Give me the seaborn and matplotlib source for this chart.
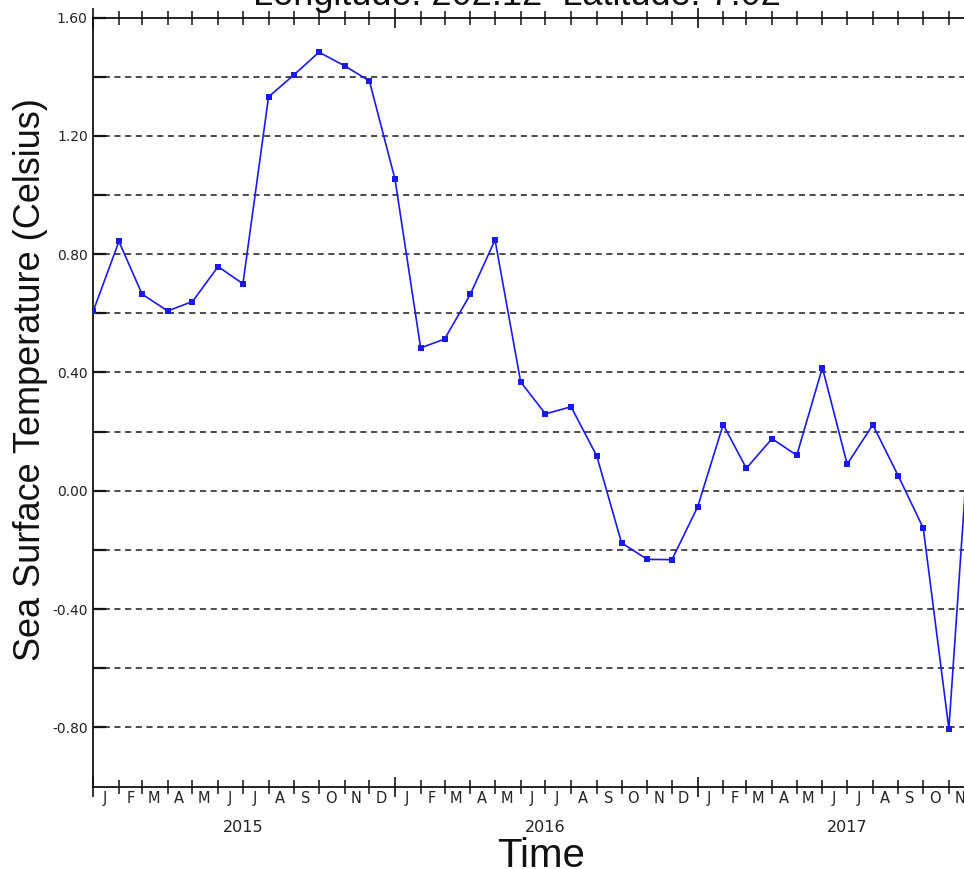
import numpy as np
import pandas as pd
import matplotlib
matplotlib.use("Agg")
import matplotlib.pyplot as plt
import matplotlib.dates as mdates
import seaborn as sns

# Monthly sea surface temperature anomaly at one grid point
months = pd.date_range("2015-01-01", "2017-12-01", freq="MS")
sst = [0.608, 0.843, 0.665, 0.608, 0.640, 0.758, 0.700, 1.332, 1.407, 1.483, 1.437, 1.386,
       1.053, 0.483, 0.513, 0.664, 0.848, 0.368, 0.260, 0.284, 0.118, -0.176, -0.232, -0.233,
       -0.055, 0.224, 0.076, 0.176, 0.120, 0.416, 0.090, 0.223, 0.049, -0.126, -0.805, 0.420]
month_letters = list("JFMAMJJASOND")
years = [2015, 2016, 2017]
y_major = [-0.8, -0.4, 0.0, 0.4, 0.8, 1.2, 1.6]
y_minor = [-0.6, -0.2, 0.2, 0.6, 1.0, 1.4]
title = "Longitude: 202.12  Latitude: 7.02"
ylabel = "Sea Surface Temperature (Celsius)"
xlabel = "Time"

df = pd.DataFrame({"time": months, "sst": sst})

sns.set_theme(style="white")
plt.rcParams["font.family"] = ["DejaVu Sans"]

W, H = 964, 869
fig = plt.figure(figsize=(W / 100, H / 100), dpi=100)
x0, x1 = 93.3, 93.3 + 906.0
ytop, ybot = 17.6, 786.5
ax = fig.add_axes([x0 / W, 1 - ybot / H, (x1 - x0) / W, (ybot - ytop) / H])

# dashed reference lines every 0.2
for v in y_major[:-1] + y_minor:
    ax.axhline(v, color="#1a1a1a", lw=1.1, ls=(0, (4, 3)), zorder=1)

sns.lineplot(data=df, x="time", y="sst", ax=ax, color="#1a1af0", lw=1.2,
             marker="s", markersize=4.2, markeredgewidth=0, zorder=3)

ax.set_xlim(pd.Timestamp("2015-01-01"), pd.Timestamp("2018-01-01"))
ax.set_ylim(-1.0, 1.6)
ax.set_xlabel("")
ax.set_ylabel("")

# y ticks
ax.set_yticks(y_major)
ax.set_yticklabels([f"{v:.2f}" for v in y_major])
ax.set_yticks(y_minor, minor=True)
ax.tick_params(axis="y", which="both", direction="in", length=9, width=1.6,
               color="#111111", left=True, right=False, labelsize=10,
               labelcolor="#222222", pad=4)

# x ticks: long at January, shorter at other month starts
ax.xaxis.set_major_locator(mdates.MonthLocator(bymonth=1))
ax.xaxis.set_minor_locator(mdates.MonthLocator(bymonth=range(2, 13)))
ax.xaxis.set_major_formatter(plt.NullFormatter())
ax.xaxis.set_minor_formatter(plt.NullFormatter())
ax.tick_params(axis="x", which="major", direction="inout", length=14, width=1.2,
               color="#111111", top=True, bottom=True)
ax.tick_params(axis="x", which="minor", direction="inout", length=10, width=1.1,
               color="#111111", top=True, bottom=True)

for side in ["left", "bottom", "top"]:
    ax.spines[side].set_color("#111111")
    ax.spines[side].set_linewidth(1.3)
ax.spines["right"].set_visible(False)

# month initials centred in each month
mid_months = [m + pd.Timedelta(days=14) for m in months]
sec_m = ax.secondary_xaxis("bottom")
sec_m.set_xticks(mid_months)
sec_m.set_xticklabels([month_letters[m.month - 1] for m in months])
sec_m.tick_params(length=0, pad=3, labelsize=10.5, labelcolor="#222222")
sec_m.spines["bottom"].set_visible(False)

# year labels at mid-year
sec_y = ax.secondary_xaxis("bottom")
sec_y.set_xticks([pd.Timestamp(f"{y}-07-01") for y in years])
sec_y.set_xticklabels([str(y) for y in years])
sec_y.tick_params(length=0, pad=24, labelsize=11.5, labelcolor="#222222")
sec_y.spines["bottom"].set_visible(False)

lab_font = ["Liberation Sans", "DejaVu Sans"]
fig.text(541 / W, 2 / H, xlabel, ha="center", va="baseline", fontsize=29,
         family=lab_font, color="#111111")
fig.text(31 / W, 1 - 380 / H, ylabel, ha="center", va="center", rotation=90,
         fontsize=26, family=lab_font, color="#111111")
fig.text(517 / W, 1 - 5 / H, title, ha="center", va="baseline", fontsize=26,
         family=lab_font, color="#111111")

fig.savefig("out.png", dpi=100)
